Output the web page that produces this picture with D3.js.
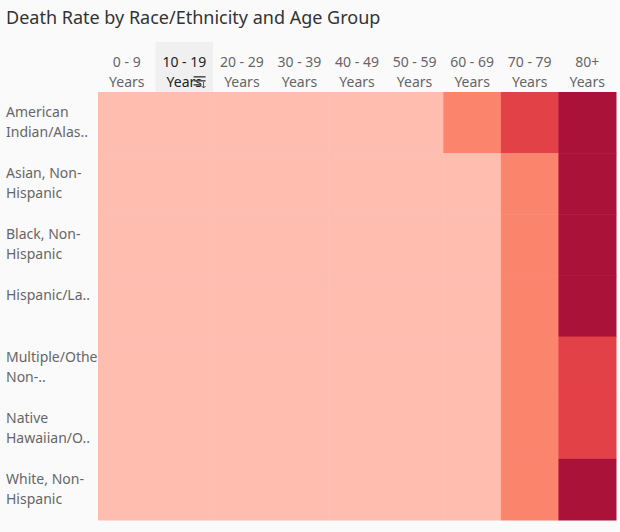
<!DOCTYPE html>
<html><head><meta charset="utf-8">
<script src="https://cdn.jsdelivr.net/npm/d3@7"></script>
<style>body{margin:0;background:#fafafa;font-family:"Noto Sans",sans-serif}</style>
</head><body><svg id="c" width="620" height="532"></svg>
<script>
const ages = ["0 - 9|Years","10 - 19|Years","20 - 29|Years","30 - 39|Years","40 - 49|Years","50 - 59|Years","60 - 69|Years","70 - 79|Years","80+|Years"];
const races = ["American|Indian/Alas..","Asian, Non-|Hispanic","Black, Non-|Hispanic","Hispanic/La..","Multiple/Othe|Non-..","Native|Hawaiian/O..","White, Non-|Hispanic"];
// rate level per row (race) across age columns: 1 low ... 4 highest
const values = [
  [1,1,1,1,1,1,2,3,4],
  [1,1,1,1,1,1,1,2,4],
  [1,1,1,1,1,1,1,2,4],
  [1,1,1,1,1,1,1,2,4],
  [1,1,1,1,1,1,1,2,3],
  [1,1,1,1,1,1,1,2,3],
  [1,1,1,1,1,1,1,2,4]
];
const colors = ["#ffbdb0","#fb846d","#e34148","#ab1239"];
const svg = d3.select("#c");
svg.append("text").attr("x",6).attr("y",24).attr("font-size",18).attr("fill","#333").text("Death Rate by Race/Ethnicity and Age Group");
const x = d3.scaleBand().domain(ages).range([98,616]);
const y = d3.scaleBand().domain(races).range([92,520]);
const col = d3.scaleOrdinal().domain([1,2,3,4]).range(colors);
svg.append("rect").attr("x",x(ages[1])).attr("y",42).attr("width",x.bandwidth()).attr("height",50).attr("fill","#f0f0f0");
values.forEach((row,i)=>row.forEach((v,j)=>{
  svg.append("rect").attr("x",x(ages[j])).attr("y",y(races[i])).attr("width",x.bandwidth()+0.5).attr("height",y.bandwidth()+0.5).attr("fill",col(v));
}));
ages.forEach((a,j)=>{
  const t=svg.append("text").attr("text-anchor","middle").attr("font-size",14).attr("fill",j==1?"#222":"#666");
  a.split("|").forEach((s,k)=>t.append("tspan").attr("x",x(a)+x.bandwidth()/2).attr("y",67+k*20).text(s));
});
races.forEach(r=>{
  const parts=r.split("|");
  const t=svg.append("text").attr("font-size",14).attr("fill","#666");
  parts.forEach((s,k)=>t.append("tspan").attr("x",6).attr("y",y(r)+25+k*20).text(s));
});
// sort icon
const ix=x(ages[1])+38, iy=76;
[0,4,8].forEach((d,k)=>svg.append("rect").attr("x",ix).attr("y",iy+d).attr("width",k==2?7:12).attr("height",1.6).attr("fill","#555"));
svg.append("path").attr("d",`M${ix+10},${iy+6}v6m-2,-2l2,2l2,-2`).attr("stroke","#555").attr("fill","none");
</script></body></html>
